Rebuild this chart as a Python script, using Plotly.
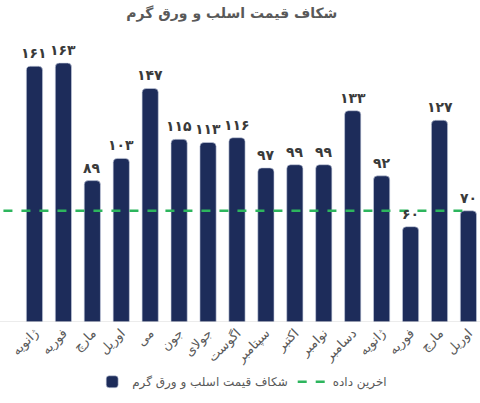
import plotly.graph_objects as go

months = ["ژانویه", "فوریه", "مارچ", "اوریل", "می", "جون", "جولای", "اگوست",
          "سپتامبر", "اکتبر", "نوامبر", "دسامبر", "ژانویه", "فوریه", "مارچ", "اوریل"]
gap = [161, 163, 89, 103, 147, 115, 113, 116, 97, 99, 99, 133, 92, 60, 127, 70]
last_value = 70

title = "شکاف قیمت اسلب و ورق گرم"
bar_name = "شکاف قیمت اسلب و ورق گرم"
line_name = "اخرین داده"

fa_digits = str.maketrans("0123456789", "۰۱۲۳۴۵۶۷۸۹")
labels = [str(v).translate(fa_digits) for v in gap]

# months repeat, so plot on index positions and use month names as tick text
idx = list(range(len(months)))

fig = go.Figure()

fig.add_trace(go.Bar(
    x=idx, y=gap,
    name=bar_name,
    marker=dict(color="#1d2c5a", line=dict(color="#c9d0e0", width=0.6)),
    width=0.56,
))

# legend entry for the dashed line
fig.add_trace(go.Scatter(
    x=[None], y=[None], mode="lines", name=line_name,
    line=dict(color="#2db55d", width=2.5, dash="dash"),
))

fig.add_shape(type="line", xref="paper", yref="y",
              x0=-0.036, x1=0.978, y0=last_value, y1=last_value,
              line=dict(color="#2db55d", width=2.5, dash="dash"))
fig.add_shape(type="line", xref="paper", yref="y",
              x0=-0.045, x1=1, y0=0, y1=0,
              line=dict(color="#d9d9d9", width=1))

# value labels a little above each bar
for i, v, lab in zip(idx, gap, labels):
    fig.add_annotation(x=i, y=v, text="<b>" + lab + "</b>", showarrow=False,
                       yanchor="bottom", yshift=3,
                       font=dict(size=14, color="#3a3a3a", family="DejaVu Sans"))

fig.update_layout(
    width=480, height=403,
    margin=dict(l=20, r=0, t=44, b=81, autoexpand=False),
    paper_bgcolor="white", plot_bgcolor="white",
    title=dict(text="<b>" + title + "</b>", x=0.483, xanchor="center",
               y=0.967, yanchor="middle",
               font=dict(size=14, color="#595959", family="DejaVu Sans")),
    barcornerradius=4,
    showlegend=True,
    legend=dict(orientation="h", x=0.483, xanchor="center", y=-0.215,
                yanchor="middle",
                font=dict(size=12, color="#595959", family="DejaVu Sans")),
    font=dict(family="DejaVu Sans"),
)
fig.update_xaxes(
    range=[-0.5, 15.4], tickmode="array", tickvals=idx, ticktext=months,
    tickangle=-45, tickfont=dict(size=13, color="#595959"),
    showgrid=False, showline=False, ticks="", zeroline=False,
    automargin=False,
)
fig.update_yaxes(range=[0, 175], visible=False, showgrid=False, zeroline=False,
                 automargin=False)

# drop the default 8px page margin so the figure sits at the window corner
fig.write_html("out.html", config={"displayModeBar": False},
               post_script="document.body.style.margin='0';")
